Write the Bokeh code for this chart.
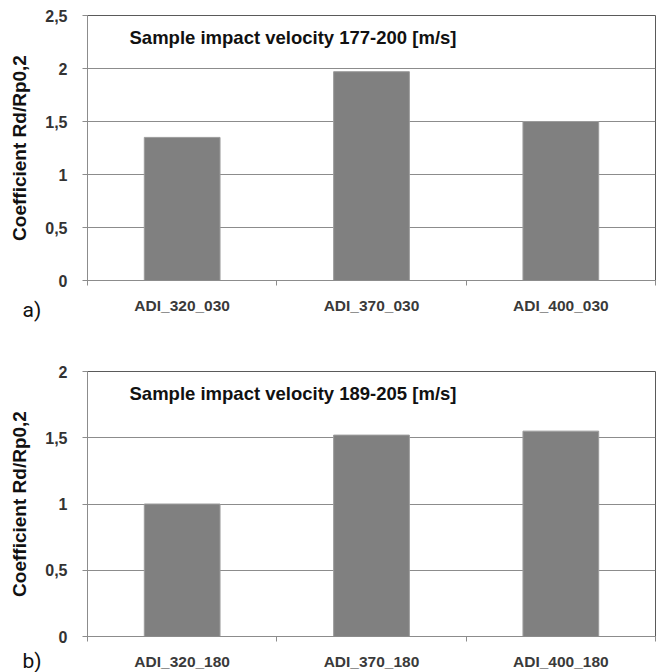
from bokeh.plotting import figure
from bokeh.models import ColumnDataSource, FixedTicker, Range1d, Label
from bokeh.layouts import column
from bokeh.embed import file_html
from bokeh.resources import INLINE

# ---- data ----
cats_a = ["ADI_320_030", "ADI_370_030", "ADI_400_030"]
vals_a = [1.35, 1.97, 1.50]
title_a = "Sample impact velocity 177-200 [m/s]"
yticks_a = [0, 0.5, 1, 1.5, 2, 2.5]

cats_b = ["ADI_320_180", "ADI_370_180", "ADI_400_180"]
vals_b = [1.00, 1.52, 1.55]
title_b = "Sample impact velocity 189-205 [m/s]"
yticks_b = [0, 0.5, 1, 1.5, 2]

ylabel = "Coefficient Rd/Rp0,2"
FONT = "Liberation Sans"
FRAME_H = 265


def fmt(v):
    return ("%g" % v).replace(".", ",")


def make(cats, vals, title, yticks, height, top, bottom):
    n = len(cats)
    xs = [i + 0.5 for i in range(n)]
    src = ColumnDataSource(dict(x=xs, top=vals, cat=cats))
    p = figure(width=664, height=height, output_backend="svg", toolbar_location=None,
               x_range=Range1d(0, n), y_range=Range1d(0, max(yticks)),
               min_border_left=87, min_border_right=9,
               min_border_top=top, min_border_bottom=bottom)
    p.vbar(x="x", top="top", width=0.4, source=src,
           fill_color="#808080", line_color="#9c9c9c", line_width=1)

    p.outline_line_color = "#5a5a5a"
    p.outline_line_width = 1
    p.xgrid.grid_line_color = None
    p.ygrid.grid_line_color = "#8c8c8c"
    p.ygrid.grid_line_width = 1

    ya = p.yaxis[0]
    ya.ticker = FixedTicker(ticks=yticks)
    ya.major_label_overrides = {t: fmt(t) for t in yticks}
    ya.axis_line_color = "#8c8c8c"
    ya.major_tick_line_color = "#8c8c8c"
    ya.major_tick_out = 5
    ya.major_tick_in = 0
    ya.minor_tick_line_color = None
    ya.major_label_text_font = FONT
    ya.major_label_text_font_style = "bold"
    ya.major_label_text_font_size = "16px"
    ya.major_label_text_color = "#333333"
    ya.major_label_standoff = 15
    ya.axis_label = ylabel
    ya.axis_label_text_font = FONT
    ya.axis_label_text_font_style = "bold"
    ya.axis_label_text_font_size = "19px"
    ya.axis_label_text_color = "#111111"
    ya.axis_label_standoff = 12

    xa = p.xaxis[0]
    xa.ticker = FixedTicker(ticks=xs, minor_ticks=list(range(n + 1)))
    xa.major_label_overrides = {x: c for x, c in zip(xs, cats)}
    xa.axis_line_color = "#8c8c8c"
    xa.major_tick_line_color = None
    xa.major_tick_out = 0
    xa.major_tick_in = 0
    xa.minor_tick_line_color = "#8c8c8c"
    xa.minor_tick_out = 5
    xa.minor_tick_in = 0
    xa.major_label_text_font = FONT
    xa.major_label_text_font_style = "bold"
    xa.major_label_text_font_size = "15.5px"
    xa.major_label_text_color = "#3a3a3a"
    xa.major_label_standoff = 11

    p.add_layout(Label(x=42, y=FRAME_H - 22, x_units="screen", y_units="screen",
                       text=title, text_font=FONT, text_font_style="bold",
                       text_font_size="18.5px", text_color="#111111",
                       text_baseline="middle"))
    return p


def letter_label(text, x, y):
    return Label(x=x, y=y, x_units="screen", y_units="screen",
                 text=text, text_font="Roboto", text_font_size="21px",
                 text_color="#111111", text_baseline="middle")


H1 = 342
p1 = make(cats_a, vals_a, title_a, yticks_a, H1, 15, H1 - 15 - FRAME_H)
p1.add_layout(letter_label("a)", -65, H1 - 311), "below")

H2 = 672 - H1
top2 = 371 - H1
p2 = make(cats_b, vals_b, title_b, yticks_b, H2, top2, H2 - top2 - FRAME_H)
p2.add_layout(letter_label("b)", -65, top2 - (660 - H1)), "above")

layout = column(p1, p2, spacing=0)
open("out.html", "w").write(file_html(layout, INLINE))
